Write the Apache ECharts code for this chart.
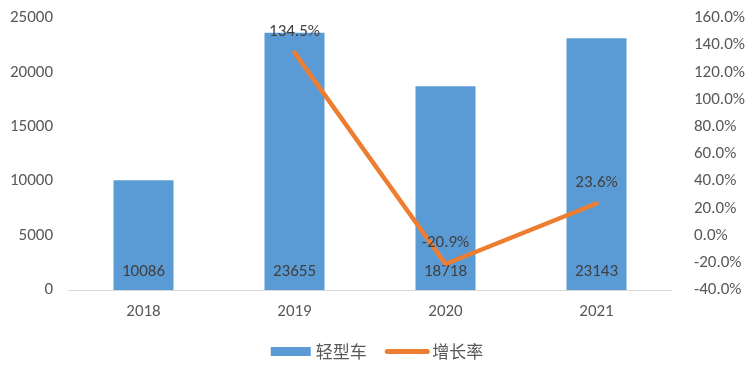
<!DOCTYPE html>
<html><head><meta charset="utf-8">
<script src="https://cdn.jsdelivr.net/npm/echarts@6/dist/echarts.min.js"></script>
<style>html,body{margin:0;padding:0;background:#fff}#c{width:754px;height:370px}</style>
</head><body><div id="c"></div>
<script>
const categories = ['2018', '2019', '2020', '2021'];
const lightVehicles = [10086, 23655, 18718, 23143];
const growthRate = [null, 134.5, -20.9, 23.6];
const leftTicks = [0, 25000, 5000];
const rightTicks = [-40, 160, 20];

const font = 'Calibri, Carlito, "Liberation Sans", "Noto Sans CJK SC", sans-serif';
const chart = echarts.init(document.getElementById('c'));
chart.setOption({
  animation: false,
  textStyle: { fontFamily: font },
  grid: { left: 68, right: 82, top: 18, bottom: 80 },
  legend: {
    bottom: 5, left: 'center', itemWidth: 40, itemHeight: 9, itemGap: 18,
    textStyle: { fontSize: 17, color: '#595959', fontFamily: '"Noto Sans CJK SC", sans-serif' },
    data: [{ name: '轻型车', icon: 'rect' },
           { name: '增长率', itemStyle: { opacity: 0 }, lineStyle: { width: 5 } }]
  },
  xAxis: {
    type: 'category', data: categories,
    axisLine: { lineStyle: { color: '#d9d9d9', width: 1 } },
    axisTick: { show: false },
    axisLabel: { color: '#595959', fontSize: 17, margin: 13 }
  },
  yAxis: [
    { type: 'value', min: leftTicks[0], max: leftTicks[1], interval: leftTicks[2],
      splitLine: { show: false }, axisLine: { show: false }, axisTick: { show: false },
      axisLabel: { color: '#595959', fontSize: 17, margin: 15, formatter: v => String(v) } },
    { type: 'value', min: rightTicks[0], max: rightTicks[1], interval: rightTicks[2],
      splitLine: { show: false }, axisLine: { show: false }, axisTick: { show: false },
      axisLabel: { color: '#595959', fontSize: 17, margin: 22, formatter: v => v.toFixed(1) + '%' } }
  ],
  series: [
    { name: '轻型车', type: 'bar', data: lightVehicles, barWidth: 60,
      itemStyle: { color: '#5B9BD5' },
      label: { show: true, position: 'insideBottom', distance: 10, color: '#404040', fontSize: 17 } },
    { name: '增长率', type: 'line', yAxisIndex: 1, data: growthRate,
      symbol: 'circle', symbolSize: 1, showSymbol: true,
      lineStyle: { color: '#ED7D31', width: 4.5, cap: 'round' }, itemStyle: { color: '#ED7D31' },
      label: { show: true, position: 'top', distance: 12, color: '#404040', fontSize: 17,
        formatter: p => p.value == null ? '' : p.value.toFixed(1) + '%' } }
  ]
});
</script></body></html>
